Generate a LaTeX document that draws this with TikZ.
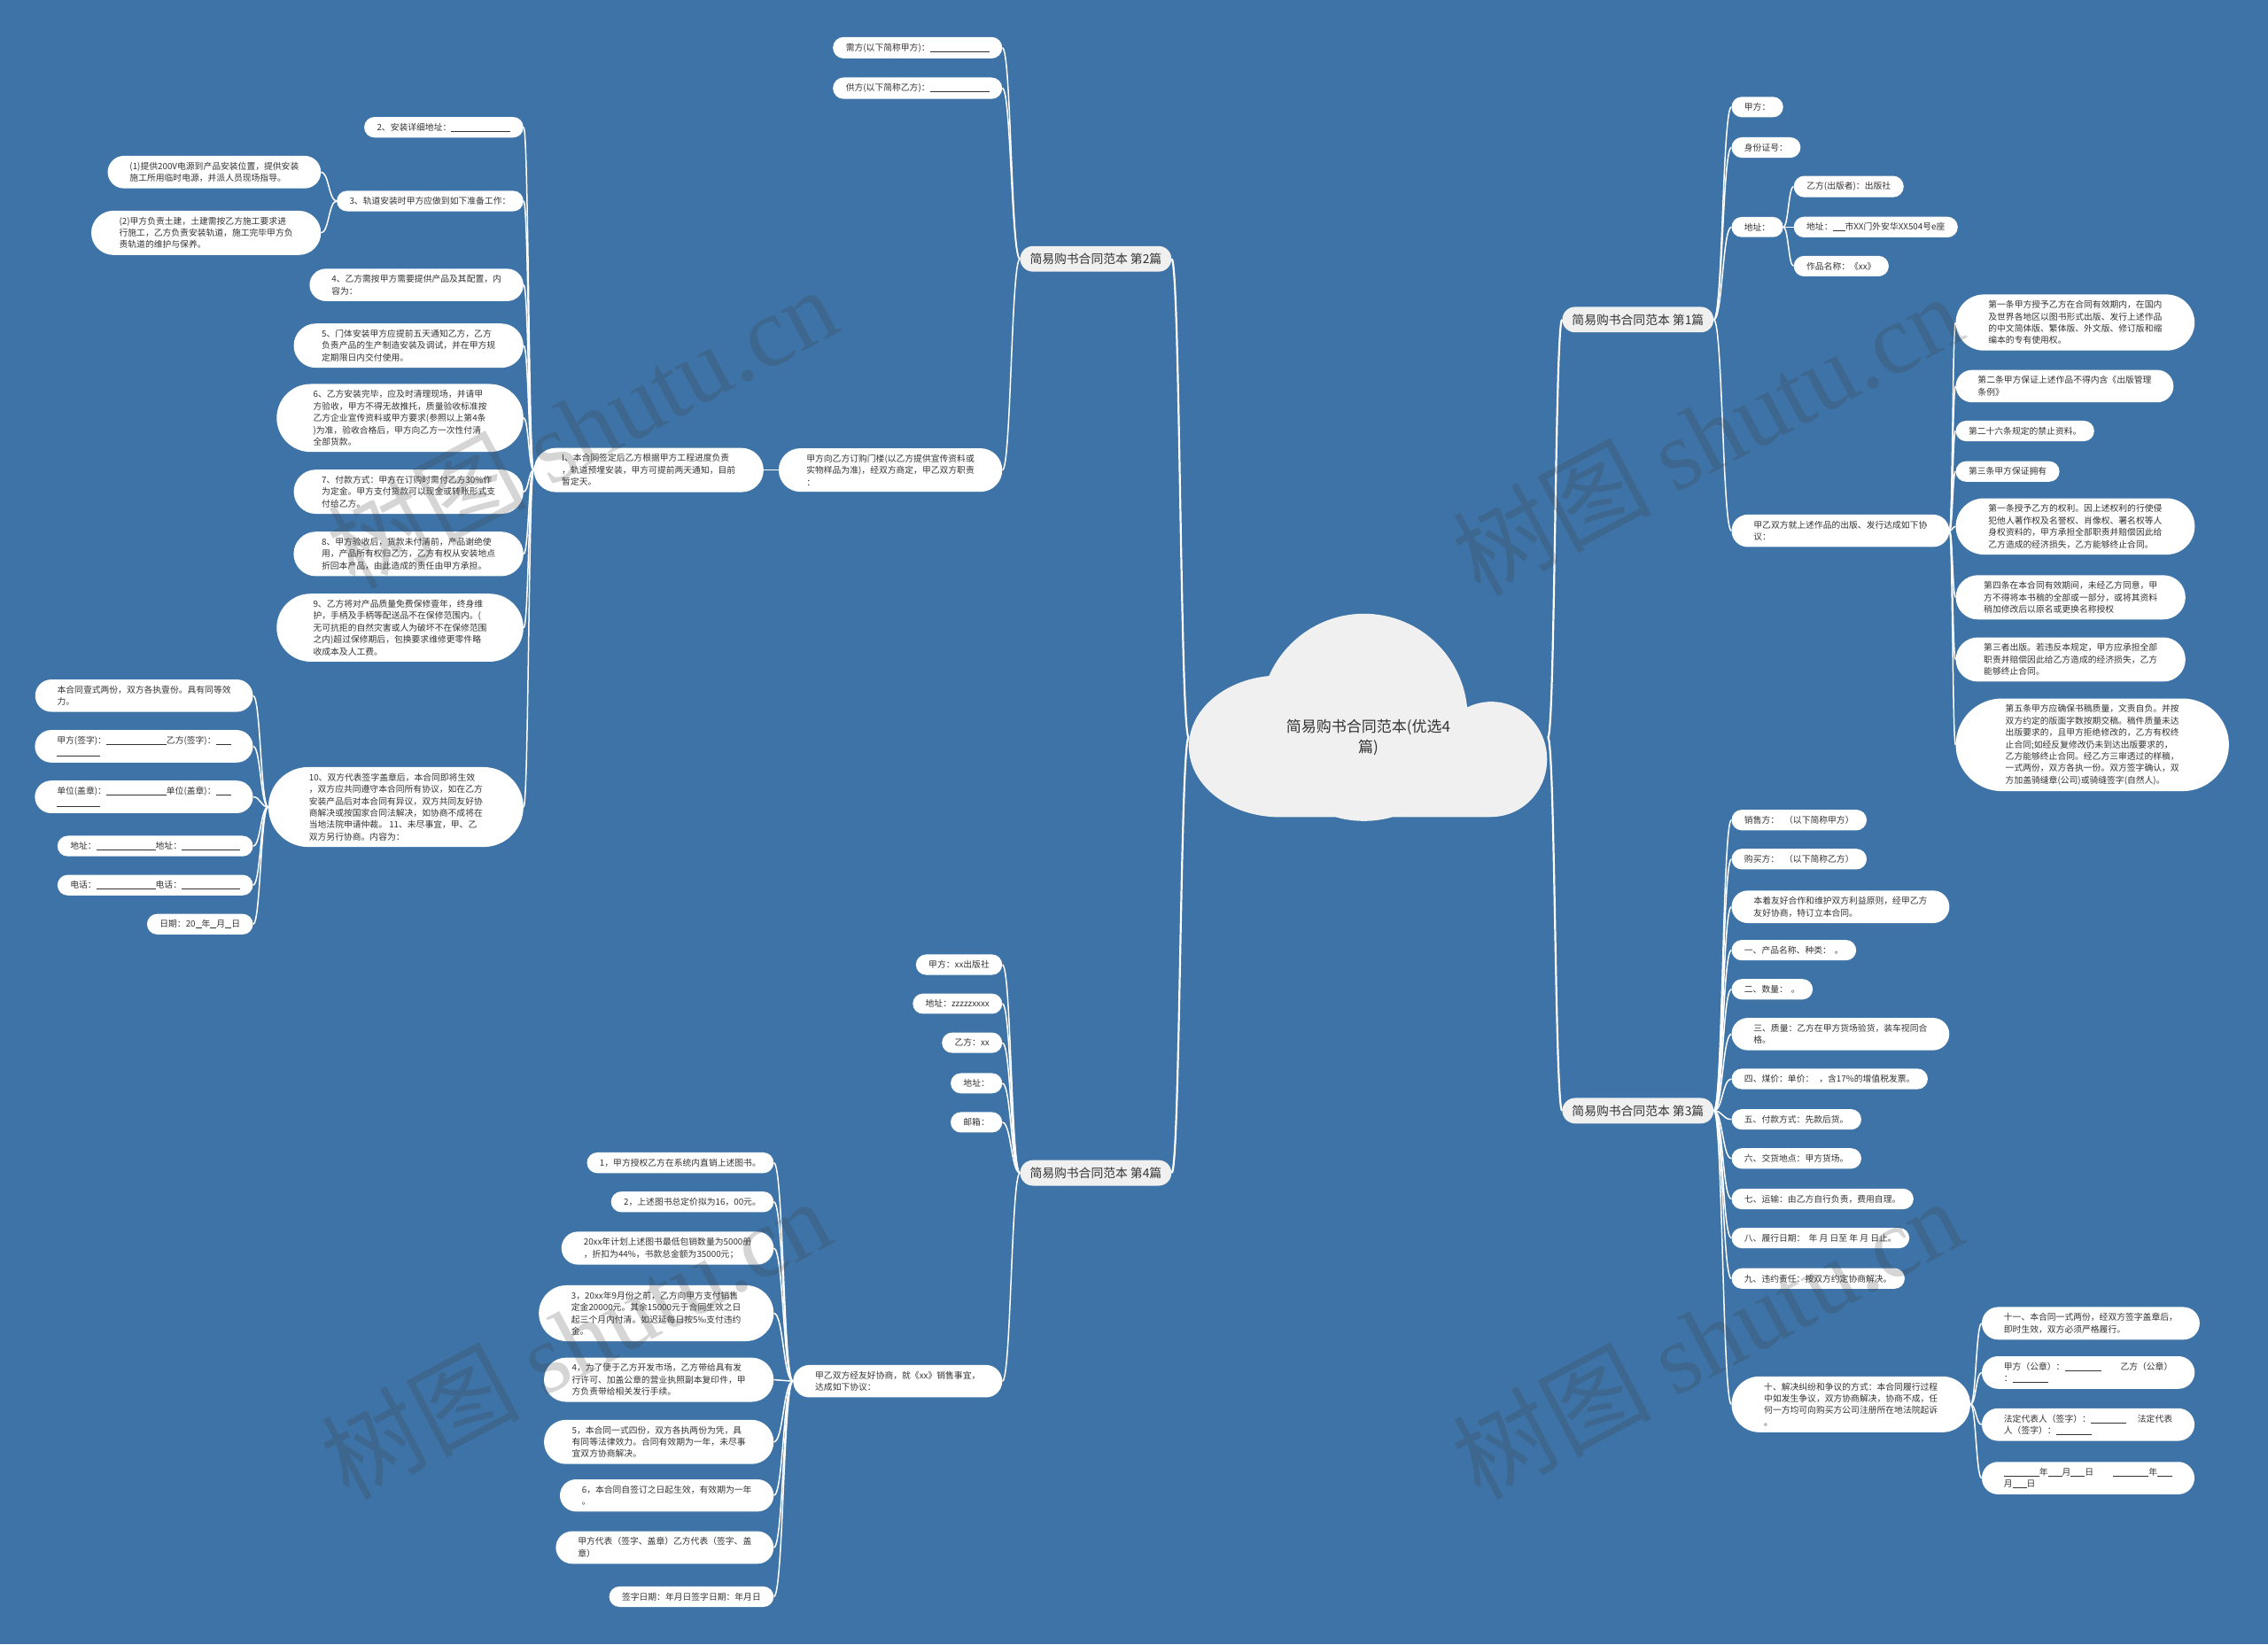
\documentclass[tikz,border=0pt]{standalone}
\usepackage{fontspec}
\setmainfont{Noto Sans CJK SC}
\newfontfamily\wmserif{Liberation Serif}
\usetikzlibrary{positioning, calc, shapes.misc}

\definecolor{bgblue}{RGB}{61,115,166}
\definecolor{txt}{RGB}{51,51,51}
\definecolor{hubgray}{RGB}{240,240,240}
\definecolor{wmgray}{RGB}{64,64,64}

\newcommand{\blankln}[1]{\rule[-1pt]{#1}{0.5pt}}

\begin{document}
\begin{tikzpicture}[
    x=1.6327pt, y=-1.6327pt,
    leaf/.style={
        rounded rectangle, fill=white, text=txt, align=left,
        font=\fontsize{9.8pt}{13.4pt}\selectfont,
        inner xsep=13.5pt, inner ysep=7pt,
    },
    lines2/.style={inner xsep=21pt},
    lines3/.style={inner xsep=24pt},
    lines4/.style={inner xsep=25pt},
    lines7/.style={inner xsep=30pt},
    lft/.style={leaf, anchor=east},
    rgt/.style={leaf, anchor=west},
    hub/.style={
        rounded rectangle, fill=hubgray, text=txt,
        font=\fontsize{13.8pt}{16pt}\selectfont,
        inner xsep=9.5pt, inner ysep=8pt,
    },
    link/.style={
        draw=white, line width=1.5pt,
        to path={let \p1=(\tikztostart), \p2=(\tikztotarget) in
            .. controls ({0.5*\x1+0.5*\x2},\y1) and ({0.5*\x1+0.5*\x2},\y2) .. (\tikztotarget)},
    },
    trunk/.style={link, line width=2.2pt},
    wmtext/.style={text=wmgray, text opacity=0.22, font=\fontsize{112pt}{112pt}\selectfont},
]

\def\colA{175}
\def\colB{222}
\def\colC{362}
\def\colD{535}
\def\colE{693}
\def\colF{1197}
\def\colG{1240}
\def\colH{1352}
\def\colI{1370}

\fill[bgblue] (0,0) rectangle (1568,1137);
\useasboundingbox (0,0) rectangle (1568,1137);

% cloud
\fill[hubgray] (885,516) ellipse [x radius=103pt, y radius=80pt]
    (943,496) circle [radius=117pt]
    (1031,525) ellipse [x radius=63pt, y radius=65pt]
    (885,516) rectangle (1031,565);
\node[text=txt, font=\fontsize{17pt}{23pt}\selectfont, align=center,
      minimum width=405pt, inner sep=0pt] (root) at (946,510) {简易购书合同范本(优选4\\篇)};

% main topics
\node[hub, anchor=east] (b2) at (810,179) {简易购书合同范本 第2篇};
\node[hub, anchor=west] (b1) at (1080,221) {简易购书合同范本 第1篇};
\node[hub, anchor=west] (b3) at (1080,768) {简易购书合同范本 第3篇};
\node[hub, anchor=east] (b4) at (810,811) {简易购书合同范本 第4篇};

% 第2篇
\node[lft] (b2a) at (\colE,33) {需方(以下简称甲方)：\blankln{67pt}};
\node[lft] (b2b) at (\colE,61) {供方(以下简称乙方)：\blankln{67pt}};
\node[lft, lines3] (b2c) at (\colE,325) {甲方向乙方订购门楼(以乙方提供宣传资料或\\实物样品为准)，经双方商定，甲乙双方职责\\：};
\node[lft, lines3] (b2c1) at (528,325) {I、本合同签定后乙方根据甲方工程进度负责\\，轨道预埋安装，甲方可提前两天通知，目前\\暂定天。};

\node[lft] (c2) at (\colC,88) {2、安装详细地址：\blankln{67pt}};
\node[lft] (c3) at (\colC,139) {3、轨道安装时甲方应做到如下准备工作：};
\node[lft, lines2] (c4) at (\colC,197) {4、乙方需按甲方需要提供产品及其配置，内\\容为：};
\node[lft, lines3] (c5) at (\colC,239) {5、门体安装甲方应提前五天通知乙方，乙方\\负责产品的生产制造安装及调试，并在甲方规\\定期限日内交付使用。};
\node[lft, lines4] (c6) at (\colC,289) {6、乙方安装完毕，应及时清理现场，并请甲\\方验收，甲方不得无故推托，质量验收标准按\\乙方企业宣传资料或甲方要求(参照以上第4条\\)为准，验收合格后，甲方向乙方一次性付清\\全部货款。};
\node[lft, lines3] (c7) at (\colC,340) {7、付款方式：甲方在订购时需付乙方30\%作\\为定金。甲方支付货款可以现金或转账形式支\\付给乙方。};
\node[lft, lines3] (c8) at (\colC,383) {8、甲方验收后，货款未付清前，产品谢绝使\\用，产品所有权归乙方，乙方有权从安装地点\\折回本产品，由此造成的责任由甲方承担。};
\node[lft, lines4] (c9) at (\colC,434) {9、乙方将对产品质量免费保修壹年，终身维\\护，手柄及手柄等配送品不在保修范围内。(\\无可抗拒的自然灾害或人为破坏不在保修范围\\之内)超过保修期后，包换要求维修更零件略\\收成本及人工费。};
\node[lft, lines4] (c10) at (\colC,558) {10、双方代表签字盖章后，本合同即将生效\\，双方应共同遵守本合同所有协议，如在乙方\\安装产品后对本合同有异议，双方共同友好协\\商解决或按国家合同法解决，如协商不成将在\\当地法院申请仲裁。 11、未尽事宜，甲、乙\\双方另行协商。内容为：};

\node[lft, lines2] (c3a) at (\colB,119) {(1)提供200V电源到产品安装位置，提供安装\\施工所用临时电源，并派人员现场指导。};
\node[lft, lines3] (c3b) at (\colB,161) {(2)甲方负责土建，土建需按乙方施工要求进\\行施工，乙方负责安装轨道，施工完毕甲方负\\责轨道的维护与保养。};

\node[lft, lines2] (d1) at (\colA,481) {本合同壹式两份，双方各执壹份。具有同等效\\力。};
\node[lft, lines2] (d2) at (\colA,516) {甲方(签字)：\blankln{68pt}乙方(签字)：\blankln{17pt}\\\blankln{49pt}};
\node[lft, lines2] (d3) at (\colA,551) {单位(盖章)：\blankln{68pt}单位(盖章)：\blankln{17pt}\\\blankln{49pt}};
\node[lft] (d4) at (\colA,585) {地址：\blankln{67pt}地址：\blankln{66pt}};
\node[lft] (d5) at (\colA,612) {电话：\blankln{67pt}电话：\blankln{66pt}};
\node[lft] (d6) at (\colA,639) {日期：20\blankln{7pt}年\blankln{7pt}月\blankln{7pt}日};

% 第1篇
\node[rgt] (e1) at (\colF,74) {甲方：};
\node[rgt] (e2) at (\colF,102) {身份证号：};
\node[rgt] (e3) at (\colF,157) {地址：};
\node[rgt, lines2] (e4) at (\colF,367) {甲乙双方就上述作品的出版、发行达成如下协\\议：};

\node[rgt] (e3a) at (\colG,129) {乙方(出版者)：出版社};
\node[rgt] (e3b) at (\colG,157) {地址：\blankln{14pt}市XX门外安华XX504号e座};
\node[rgt] (e3c) at (\colG,184) {作品名称：《xx》};

\node[rgt, lines4] (f1) at (\colH,223) {第一条甲方授予乙方在合同有效期内，在国内\\及世界各地区以图书形式出版、发行上述作品\\的中文简体版、繁体版、外文版、修订版和缩\\编本的专有使用权。};
\node[rgt, lines2] (f2) at (\colH,267) {第二条甲方保证上述作品不得内含《出版管理\\条例》};
\node[rgt] (f3) at (\colH,298) {第二十六条规定的禁止资料。};
\node[rgt] (f4) at (\colH,326) {第三条甲方保证拥有};
\node[rgt, lines4] (f5) at (\colH,364) {第一条授予乙方的权利。因上述权利的行使侵\\犯他人著作权及名誉权、肖像权、署名权等人\\身权资料的，甲方承担全部职责并赔偿因此给\\乙方造成的经济损失，乙方能够终止合同。};
\node[rgt, lines3] (f6) at (\colH,413) {第四条在本合同有效期间，未经乙方同意，甲\\方不得将本书稿的全部或一部分，或将其资料\\稍加修改后以原名或更换名称授权};
\node[rgt, lines3] (f7) at (\colH,456) {第三者出版。若违反本规定，甲方应承担全部\\职责并赔偿因此给乙方造成的经济损失，乙方\\能够终止合同。};
\node[rgt, lines7] (f8) at (\colH,515) {第五条甲方应确保书稿质量，文责自负。并按\\双方约定的版面字数按期交稿。稿件质量未达\\出版要求的，且甲方拒绝修改的，乙方有权终\\止合同;如经反复修改仍未到达出版要求的，\\乙方能够终止合同。经乙方三审透过的样稿，\\一式两份，双方各执一份。双方签字确认，双\\方加盖骑缝章(公司)或骑缝签字(自然人)。};

% 第3篇
\node[rgt] (g1) at (\colF,567) {销售方：\hspace{6pt}（以下简称甲方）};
\node[rgt] (g2) at (\colF,594) {购买方：\hspace{6pt}（以下简称乙方）};
\node[rgt, lines2] (g3) at (\colF,627) {本着友好合作和维护双方利益原则，经甲乙方\\友好协商，特订立本合同。};
\node[rgt] (g4) at (\colF,657) {一、产品名称、种类：\hspace{4pt}。};
\node[rgt] (g5) at (\colF,684) {二、数量：\hspace{4pt}。};
\node[rgt, lines2] (g6) at (\colF,715) {三、质量：乙方在甲方货场验货，装车视同合\\格。};
\node[rgt] (g7) at (\colF,746) {四、煤价：单价：\hspace{6pt}，含17\%的增值税发票。};
\node[rgt] (g8) at (\colF,774) {五、付款方式：先款后货。};
\node[rgt] (g9) at (\colF,801) {六、交货地点：甲方货场。};
\node[rgt] (g10) at (\colF,829) {七、运输：由乙方自行负责，费用自理。};
\node[rgt] (g11) at (\colF,856) {八、履行日期：\hspace{4pt}年 月 日至 年 月 日止。};
\node[rgt] (g12) at (\colF,884) {九、违约责任：按双方约定协商解决。};
\node[rgt, lines4] (g13) at (\colF,971) {十、解决纠纷和争议的方式：本合同履行过程\\中如发生争议，双方协商解决，协商不成，任\\何一方均可向购买方公司注册所在地法院起诉\\。};

\node[rgt, lines2] (h1) at (\colI,915) {十一、本合同一式两份，经双方签字盖章后，\\即时生效，双方必须严格履行。};
\node[rgt, lines2] (h2) at (\colI,949) {甲方（公章）：\blankln{41pt}\hspace{22pt}乙方（公章）\\：\blankln{40pt}};
\node[rgt, lines2] (h3) at (\colI,985) {法定代表人（签字）：\blankln{40pt}\hspace{13pt}法定代表\\人（签字）：\blankln{40pt}};
\node[rgt, lines2] (h4) at (\colI,1022) {\blankln{40pt}年\blankln{16pt}月\blankln{16pt}日\hspace{22pt}\blankln{40pt}年\blankln{17pt}\\月\blankln{16pt}日};

% 第4篇
\node[lft] (k1) at (\colE,667) {甲方：xx出版社};
\node[lft] (k2) at (\colE,694) {地址：zzzzzxxxx};
\node[lft] (k3) at (\colE,721) {乙方：xx};
\node[lft] (k4) at (\colE,749) {地址：};
\node[lft] (k5) at (\colE,776) {邮箱：};
\node[lft, lines2] (k6) at (\colE,955) {甲乙双方经友好协商，就《xx》销售事宜，\\达成如下协议：};

\node[lft] (m1) at (\colD,804) {1，甲方授权乙方在系统内直销上述图书。};
\node[lft] (m2) at (\colD,831) {2，上述图书总定价拟为16，00元。};
\node[lft, lines2] (m3) at (\colD,863) {20xx年计划上述图书最低包销数量为5000册\\，折扣为44\%，书款总金额为35000元；};
\node[lft, lines4] (m4) at (\colD,908) {3，20xx年9月份之前，乙方向甲方支付销售\\定金20000元。其余15000元于合同生效之日\\起三个月内付清。如迟延每日按5‰支付违约\\金。};
\node[lft, lines3] (m5) at (\colD,954) {4，为了便于乙方开发市场，乙方带给具有发\\行许可、加盖公章的营业执照副本复印件，甲\\方负责带给相关发行手续。};
\node[lft, lines3] (m6) at (\colD,997) {5，本合同一式四份，双方各执两份为凭，具\\有同等法律效力。合同有效期为一年，未尽事\\宜双方协商解决。};
\node[lft, lines2] (m7) at (\colD,1034) {6，本合同自签订之日起生效，有效期为一年\\。};
\node[lft, lines2] (m8) at (\colD,1070) {甲方代表（签字、盖章）乙方代表（签字、盖\\章）};
\node[lft] (m9) at (\colD,1104) {签字日期：年月日签字日期：年月日};

% connectors
\draw[trunk] (root.west) to (b2.east);
\draw[trunk] (root.west) to (b4.east);
\draw[trunk] (root.east) to (b1.west);
\draw[trunk] (root.east) to (b3.west);

\foreach \nd in {b2a,b2b,b2c}
    \draw[link] (b2.west) to (\nd.east);
\draw[link] (b2c.west) to (b2c1.east);
\foreach \nd in {c2,c3,c4,c5,c6,c7,c8,c9,c10}
    \draw[link] (b2c1.west) to (\nd.east);
\foreach \nd in {c3a,c3b}
    \draw[link] (c3.west) to (\nd.east);
\foreach \nd in {d1,d2,d3,d4,d5,d6}
    \draw[link] (c10.west) to (\nd.east);

\foreach \nd in {e1,e2,e3,e4}
    \draw[link] (b1.east) to (\nd.west);
\foreach \nd in {e3a,e3b,e3c}
    \draw[link] (e3.east) to (\nd.west);
\foreach \nd in {f1,f2,f3,f4,f5,f6,f7,f8}
    \draw[link] (e4.east) to (\nd.west);

\foreach \nd in {g1,g2,g3,g4,g5,g6,g7,g8,g9,g10,g11,g12,g13}
    \draw[link] (b3.east) to (\nd.west);
\foreach \nd in {h1,h2,h3,h4}
    \draw[link] (g13.east) to (\nd.west);

\foreach \nd in {k1,k2,k3,k4,k5,k6}
    \draw[link] (b4.west) to (\nd.east);
\foreach \nd in {m1,m2,m3,m4,m5,m6,m7,m8,m9}
    \draw[link] (k6.west) to (\nd.east);

% watermarks
\node[wmtext, rotate=28] (wm1) at (402,295) {树图 {\wmserif shutu.cn}};
\node[wmtext, rotate=28] (wm2) at (1180,300) {树图 {\wmserif shutu.cn}};
\node[wmtext, rotate=28] (wm3) at (398,925) {树图 {\wmserif shutu.cn}};
\node[wmtext, rotate=28] (wm4) at (1180,925) {树图 {\wmserif shutu.cn}};

\end{tikzpicture}
\end{document}
